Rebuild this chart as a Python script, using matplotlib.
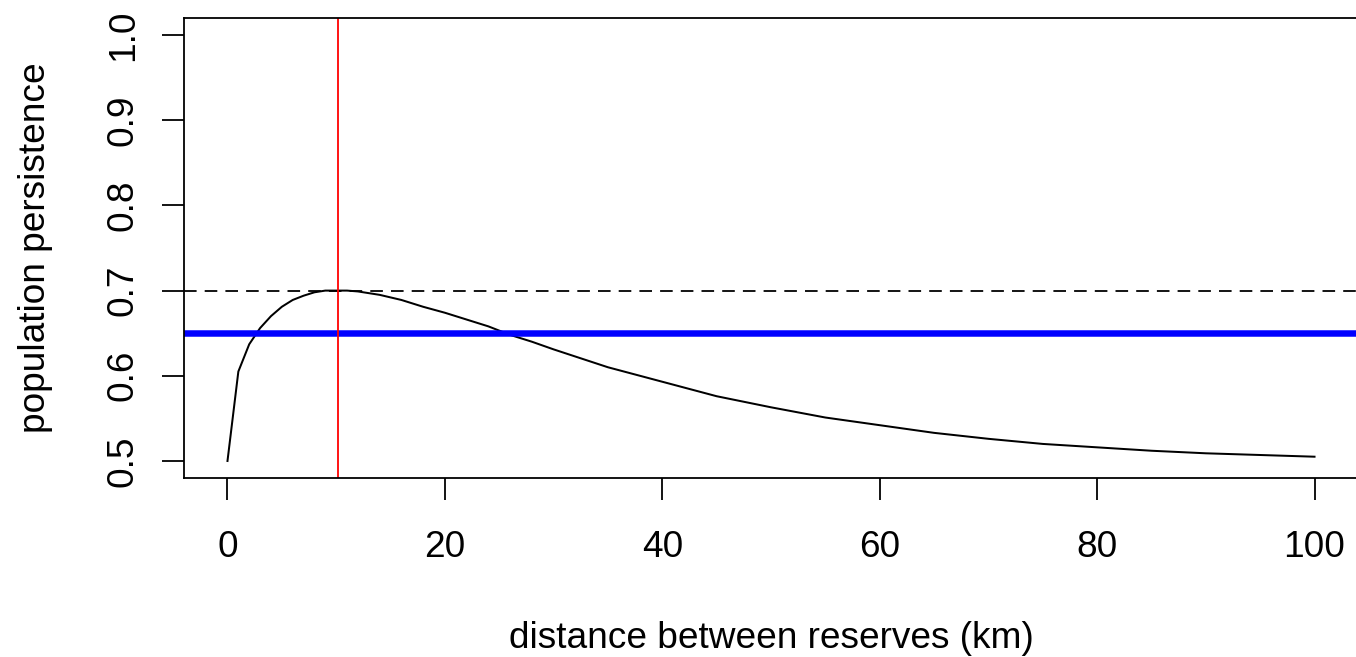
import matplotlib
matplotlib.use("Agg")
import matplotlib.pyplot as plt

# data
distance_km = [0, 1, 2, 3, 4, 5, 6, 7, 8, 9, 10, 11, 12, 14, 16, 18, 20, 22, 24, 26, 28, 30,
               35, 40, 45, 50, 55, 60, 65, 70, 75, 80, 85, 90, 95, 100]
persistence = [0.500, 0.605, 0.637, 0.656, 0.670, 0.681, 0.689, 0.694, 0.698, 0.700, 0.700,
               0.700, 0.699, 0.695, 0.689, 0.681, 0.674, 0.666, 0.658, 0.648, 0.640, 0.631,
               0.610, 0.593, 0.576, 0.563, 0.551, 0.542, 0.533, 0.526, 0.520, 0.516, 0.512,
               0.509, 0.507, 0.505]
optimum_distance = 10.2
max_persistence = 0.70
target_persistence = 0.65
x_ticks = [0, 20, 40, 60, 80, 100]
y_ticks = [0.5, 0.6, 0.7, 0.8, 0.9, 1.0]
x_label = "distance between reserves (km)"
y_label = "population persistence"

plt.rcParams['font.family'] = ['Liberation Sans', 'DejaVu Sans']
W, H, DPI = 1356, 657, 72
fig = plt.figure(figsize=(W / DPI, H / DPI), dpi=DPI)
ax = fig.add_axes([184 / W, (H - 478) / H, (1358 - 184) / W, (478 - 18) / H])

ax.plot(distance_km, persistence, color='black', lw=2)
ax.axhline(max_persistence, color='black', lw=1.8, ls=(0, (7, 4.5)))
ax.axhline(target_persistence, color='#0000ff', lw=6.5)
ax.axvline(optimum_distance, color='red', lw=1.8)

ax.set_xlim(-4, 104)
ax.set_ylim(0.48, 1.02)
ax.set_xticks(x_ticks)
ax.set_xticklabels([str(v) for v in x_ticks])
ax.set_yticks(y_ticks)
ax.set_yticklabels([f"{v:.1f}" for v in y_ticks], rotation=90, va='center')

fs = 37
ax.tick_params(axis='both', direction='out', length=22, width=1.8, labelsize=fs, colors='black')
ax.tick_params(axis='x', pad=30)
ax.tick_params(axis='y', pad=21)
for s in ax.spines.values():
    s.set_linewidth(1.8)

ax.set_xlabel(x_label, fontsize=fs, labelpad=56)
ax.set_ylabel(y_label, fontsize=fs, labelpad=53)

fig.savefig("out.png", dpi=DPI, facecolor='white')
